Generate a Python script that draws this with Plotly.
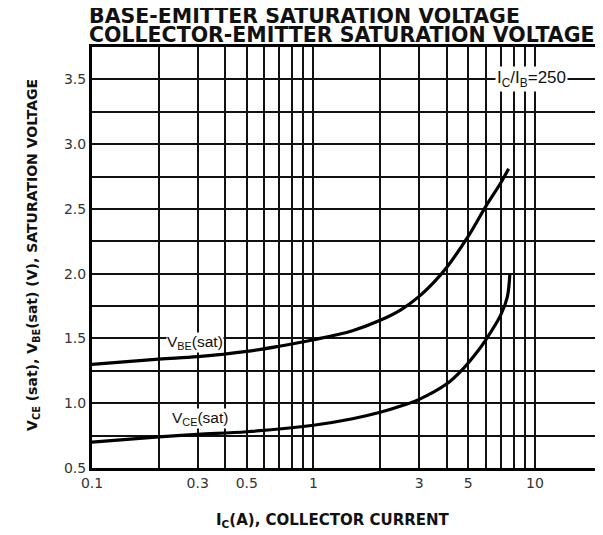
import plotly.graph_objects as go

# Data
ic_vbe = [0.1, 0.2, 0.3, 0.5, 0.7, 1.0, 1.5, 2.0, 2.5, 3.0, 3.5, 4.0, 5.0, 6.0, 7.0, 7.6]
vbe_sat = [1.30, 1.34, 1.36, 1.40, 1.44, 1.49, 1.56, 1.64, 1.725, 1.825, 1.935, 2.05, 2.29, 2.52, 2.70, 2.81]

ic_vce = [0.1, 0.2, 0.3, 0.5, 1.0, 1.5, 2.0, 2.5, 3.0, 4.0, 4.7, 5.5, 6.0, 7.0, 7.5, 7.7]
vce_sat = [0.70, 0.74, 0.76, 0.78, 0.83, 0.88, 0.93, 0.98, 1.03, 1.15, 1.26, 1.40, 1.49, 1.68, 1.82, 2.00]

x_ticks = [0.1, 0.3, 0.5, 1, 3, 5, 10]
x_tick_text = ["0.1", "0.3", "0.5", "1", "3", "5", "10"]
x_minor = [0.2, 0.4, 0.6, 0.7, 0.8, 0.9, 2, 4, 6, 7, 8, 9]

y_ticks = [0.5, 1.0, 1.5, 2.0, 2.5, 3.0, 3.5]
y_tick_text = ["0.5", "1.0", "1.5", "2.0", "2.5", "3.0", "3.5"]
y_minor = [0.75, 1.25, 1.75, 2.25, 2.75, 3.25]

FONT = "Liberation Sans, Arial, sans-serif"
WIDE = "DejaVu Sans, Arial, sans-serif"

fig = go.Figure()
fig.add_trace(go.Scatter(x=ic_vbe, y=vbe_sat, mode="lines", line=dict(color="black", width=3.2, shape="spline"),
                         showlegend=False, hoverinfo="skip"))
fig.add_trace(go.Scatter(x=ic_vce, y=vce_sat, mode="lines", line=dict(color="black", width=3.2, shape="spline"),
                         showlegend=False, hoverinfo="skip"))

grid_color = "#111111"
fig.update_xaxes(
    type="log", range=[-1, 1.28], automargin=False,
    tickvals=x_ticks, ticktext=x_tick_text, ticks="",
    showgrid=True, gridcolor=grid_color, gridwidth=2,
    minor=dict(tickvals=x_minor, showgrid=True, gridcolor=grid_color, gridwidth=2, ticks=""),
    showline=True, linecolor="black", linewidth=3, mirror=True,
    zeroline=False,
    tickfont=dict(family=WIDE, size=14, color="#333333"),
)
fig.update_yaxes(
    range=[0.5, 3.75], automargin=False,
    tickvals=y_ticks, ticktext=y_tick_text, ticks="",
    showgrid=True, gridcolor=grid_color, gridwidth=2,
    minor=dict(tickvals=y_minor, showgrid=True, gridcolor=grid_color, gridwidth=2, ticks=""),
    showline=True, linecolor="black", linewidth=3, mirror=True,
    zeroline=False,
    tickfont=dict(family=WIDE, size=14, color="#333333"),
)

# Curve labels (x in log10 units on a log axis)
fig.add_annotation(x=-0.535, y=1.47, xref="x", yref="y", text="V<sub>BE</sub>(sat)", showarrow=False,
                   font=dict(family=FONT, size=15.5, color="#111111"), bgcolor="white", borderpad=0)
fig.add_annotation(x=-0.512, y=0.885, xref="x", yref="y", text="V<sub>CE</sub>(sat)", showarrow=False,
                   font=dict(family=FONT, size=15.5, color="#111111"), bgcolor="white", borderpad=0)
fig.add_annotation(x=0.982, y=3.5, xref="x", yref="y", text="I<sub>C</sub>/I<sub>B</sub>=250", showarrow=False,
                   font=dict(family=FONT, size=17, color="#111111"), bgcolor="white", borderpad=1)

# Titles
fig.add_annotation(x=-0.0099, y=1.0735, xref="paper", yref="paper", xanchor="left", yanchor="middle",
                   text="<b>BASE-EMITTER SATURATION VOLTAGE</b>", showarrow=False,
                   font=dict(family=WIDE, size=20.5, color="#111111"))
fig.add_annotation(x=-0.0099, y=1.0275, xref="paper", yref="paper", xanchor="left", yanchor="middle",
                   text="<b>COLLECTOR-EMITTER SATURATION VOLTAGE</b>", showarrow=False,
                   font=dict(family=WIDE, size=20.5, color="#111111"))
fig.add_annotation(x=0.477, y=-0.125, xref="paper", yref="paper", xanchor="center", yanchor="middle",
                   text="<b>I<sub>C</sub>(A), COLLECTOR CURRENT</b>", showarrow=False,
                   font=dict(family=WIDE, size=15, color="#111111"))
fig.add_annotation(x=-0.117, y=0.506, xref="paper", yref="paper", xanchor="center", yanchor="middle",
                   textangle=-90,
                   text="<b>V<sub>CE</sub> (sat), V<sub>BE</sub>(sat) (V), SATURATION VOLTAGE</b>", showarrow=False,
                   font=dict(family=WIDE, size=14, color="#111111"))

# The page body adds an 8px margin, so the figure is placed to compensate
fig.update_layout(
    width=595, height=527,
    margin=dict(l=84, r=6, t=39, b=67),
    plot_bgcolor="white", paper_bgcolor="white",
)

fig.write_html("out.html")
